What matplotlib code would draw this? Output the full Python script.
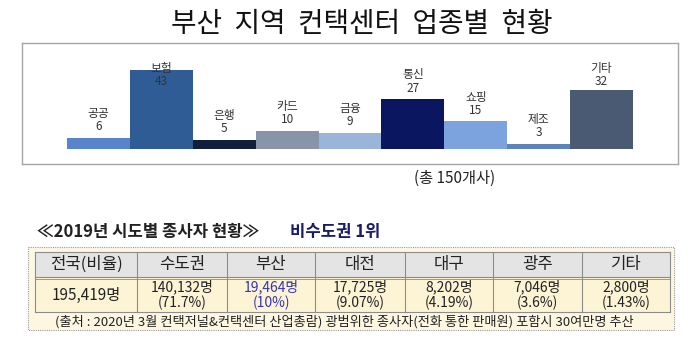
"""------------------------------------------------------------------------------------------------
부산 지역 컨택센터 업종별 현황 + 2019년 시도별 종사자 현황 표
------------------------------------------------------------------------------------------------"""
# Import
# %%
import matplotlib
matplotlib.use("Agg")
import matplotlib.pyplot as plt
from matplotlib.patches import Rectangle

plt.rcParams['font.family'] = ['Noto Sans CJK KR', 'DejaVu Sans']

# Datos -------------------------------------------------------------------------------------------
Categorias = ['공공', '보험', '은행', '카드', '금융', '통신', '쇼핑', '제조', '기타']
Valores = [6, 43, 5, 10, 9, 27, 15, 3, 32]
Colores = ['#5685cc', '#305c95', '#111f3d', '#8794a9', '#9bb4d9',
           '#0b1660', '#7ca3de', '#5d83ba', '#4b5a73']

Columnas = ['전국(비율)', '수도권', '부산', '대전', '대구', '광주', '기타']
Personas = ['195,419명', '140,132명', '19,464명', '17,725명', '8,202명', '7,046명', '2,800명']
Porcentajes = ['', '(71.7%)', '(10%)', '(9.07%)', '(4.19%)', '(3.6%)', '(1.43%)']
Nota = '(출처 : 2020년 3월 컨택저널&컨택센터 산업총람) 광범위한 종사자(전화 통한 판매원) 포함시 30여만명 추산'

# bordes de columnas de la tabla, en pixeles
BordesX = [35, 137, 227, 315, 405, 493, 582, 670]


def px(x0, y0, x1, y1):
    # convierte una caja en pixeles (y hacia abajo) a fraccion de figura
    W, H = 700, 347
    return [x0 / W, 1 - y1 / H, (x1 - x0) / W, (y1 - y0) / H]


def main():
    fig = plt.figure(figsize=(7, 3.47), dpi=100)

    # fondo: ejes en pixeles para textos y tabla
    bg = fig.add_axes([0, 0, 1, 1])
    bg.set_xlim(0, 700)
    bg.set_ylim(347, 0)
    bg.axis('off')

    bg.text(362, 24, '부산  지역  컨택센터  업종별  현황', fontsize=20,
            ha='center', va='center', color='#111111')

    # grafico de barras -------------------------------------------------------
    ax = fig.add_axes(px(22, 43, 678, 164))
    x = list(range(len(Valores)))
    ax.bar(x, Valores, width=1.0, color=Colores, zorder=2)
    for i, v in enumerate(Valores):
        yv = min(v + 6, 36.6)
        ax.text(i, yv, str(v), ha='center', va='center', fontsize=8.5, color='#333333', zorder=3)
        ax.text(i, yv + 7.2, Categorias[i], ha='center', va='center', fontsize=8.5,
                color='#333333', zorder=3)
    ax.set_xlim(-1.215, 9.215)
    ax.set_ylim(-8.06, 57.5)
    ax.set_xticks([]), ax.set_yticks([])
    for s in ax.spines.values():
        s.set_color('#a6a6a6')
        s.set_linewidth(1.0)

    bg.text(455, 178, '(총 150개사)', fontsize=11, ha='center', va='center', color='#222222')

    # subtitulo ---------------------------------------------------------------
    bg.text(37, 232, '≪2019년 시도별 종사자 현황≫', fontsize=12, fontweight='bold',
            ha='left', va='center', color='#222222')
    bg.text(290, 232, '비수도권 1위', fontsize=12, fontweight='bold',
            ha='left', va='center', color='#1b1b6b')

    # tabla ------------------------------------------------------------------
    bg.add_patch(Rectangle((28, 247), 646, 83, facecolor='#fdf7e2', edgecolor='#9a9a9a',
                           linewidth=0.8, linestyle=(0, (1, 1))))
    top, mid, bot = 252, 277, 312
    bg.add_patch(Rectangle((35, top), 635, mid - top, facecolor='#e4e4e4', edgecolor='none'))
    bg.add_patch(Rectangle((35, mid), 635, bot - mid, facecolor='#fdf4d6', edgecolor='none'))
    lc = '#8c8c8c'
    for yy in [top, mid, bot]:
        bg.plot([35, 670], [yy, yy], color=lc, linewidth=0.8)
    bg.plot([35, 670], [mid + 2, mid + 2], color=lc, linewidth=0.6)
    for xx in BordesX:
        bg.plot([xx, xx], [top, bot], color=lc, linewidth=0.8)

    for j, col in enumerate(Columnas):
        xc = (BordesX[j] + BordesX[j + 1]) / 2
        bg.text(xc, (top + mid) / 2, col, fontsize=12, ha='center', va='center', color='#222222')
        color = '#3535b5' if col == '부산' else '#222222'
        if Porcentajes[j]:
            bg.text(xc, 287, Personas[j], fontsize=10, ha='center', va='center', color=color)
            bg.text(xc, 303, Porcentajes[j], fontsize=10, ha='center', va='center', color=color)
        else:
            bg.text(xc, 295, Personas[j], fontsize=11, ha='center', va='center', color=color)

    bg.text(344, 322, Nota, fontsize=9.5, ha='center', va='center', color='#222222')

    fig.savefig('out.png', dpi=100)
    return None


if __name__ == '__main__':
    main()
